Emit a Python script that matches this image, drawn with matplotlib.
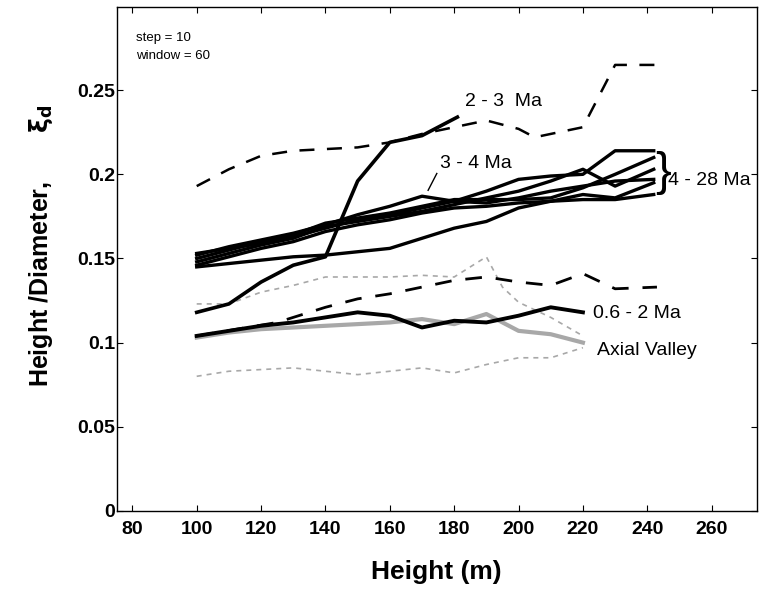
import numpy as np
import matplotlib.pyplot as plt

plt.rcParams['font.family'] = ['Liberation Sans', 'DejaVu Sans']

# upper dashed envelope
dash_hi_x = [100, 110, 120, 130, 140, 150, 160, 170, 180, 190, 200, 205, 210, 220, 230, 244]
dash_hi_y = [0.193, 0.203, 0.211, 0.214, 0.215, 0.216, 0.219, 0.224, 0.228, 0.232, 0.227, 0.222, 0.224, 0.228, 0.265, 0.265]

# lower dashed envelope
dash_lo_x = [100, 125, 140, 150, 160, 170, 180, 190, 200, 210, 220, 230, 243]
dash_lo_y = [0.104, 0.112, 0.121, 0.126, 0.129, 0.133, 0.137, 0.139, 0.136, 0.134, 0.141, 0.132, 0.133]

# 2 - 3 Ma
ma23_x = [100, 110, 120, 130, 140, 150, 160, 170, 181]
ma23_y = [0.118, 0.123, 0.136, 0.146, 0.151, 0.196, 0.219, 0.223, 0.234]

# 0.6 - 2 Ma
ma062_x = [100, 110, 120, 130, 140, 150, 160, 170, 180, 190, 200, 210, 220]
ma062_y = [0.104, 0.107, 0.110, 0.112, 0.115, 0.118, 0.116, 0.109, 0.113, 0.112, 0.116, 0.121, 0.118]

# 3 - 4 Ma and 4 - 28 Ma bundle
old_x = [100, 110, 120, 130, 140, 150, 160, 170, 180, 190, 200, 210, 220, 230, 242]
ma34_y = [0.152, 0.157, 0.161, 0.165, 0.170, 0.176, 0.181, 0.187, 0.184, 0.183, 0.186, 0.190, 0.193, 0.196, 0.197]
old_y = [
    [0.150, 0.155, 0.160, 0.163, 0.168, 0.173, 0.176, 0.180, 0.184, 0.190, 0.197, 0.199, 0.200, 0.214, 0.214],
    [0.148, 0.153, 0.158, 0.162, 0.169, 0.172, 0.175, 0.178, 0.182, 0.186, 0.190, 0.196, 0.203, 0.193, 0.203],
    [0.153, 0.156, 0.159, 0.164, 0.171, 0.174, 0.177, 0.181, 0.185, 0.185, 0.185, 0.186, 0.192, 0.200, 0.210],
    [0.146, 0.151, 0.156, 0.160, 0.166, 0.170, 0.173, 0.177, 0.180, 0.181, 0.183, 0.184, 0.188, 0.186, 0.195],
    [0.145, 0.147, 0.149, 0.151, 0.152, 0.154, 0.156, 0.162, 0.168, 0.172, 0.180, 0.184, 0.185, 0.185, 0.188],
]

# axial valley mean and envelopes
av_x = [100, 110, 120, 130, 140, 150, 160, 170, 180, 190, 200, 210, 220]
av_y = [0.103, 0.106, 0.108, 0.109, 0.110, 0.111, 0.112, 0.114, 0.111, 0.117, 0.107, 0.105, 0.100]
av_hi_x = [100, 110, 120, 130, 140, 150, 160, 170, 180, 185, 190, 195, 200, 210, 220]
av_hi_y = [0.123, 0.123, 0.130, 0.134, 0.139, 0.139, 0.139, 0.140, 0.139, 0.145, 0.151, 0.133, 0.124, 0.115, 0.104]
av_lo_x = [100, 110, 120, 130, 140, 150, 160, 170, 180, 190, 200, 210, 220]
av_lo_y = [0.080, 0.083, 0.084, 0.085, 0.083, 0.081, 0.083, 0.085, 0.082, 0.087, 0.091, 0.091, 0.097]

fig = plt.figure(figsize=(7.59, 5.99), dpi=100)
ax = fig.add_axes([0.154, 0.147, 0.843, 0.841])

gray = '#a8a8a8'
ax.plot(av_hi_x, av_hi_y, color=gray, lw=1.2, ls=(0, (3, 3)))
ax.plot(av_lo_x, av_lo_y, color=gray, lw=1.2, ls=(0, (3, 3)))
ax.plot(av_x, av_y, color=gray, lw=3.0)

ax.plot(dash_hi_x, dash_hi_y, color='k', lw=1.8, ls=(0, (6, 5)))
ax.plot(dash_lo_x, dash_lo_y, color='k', lw=2.0, ls=(0, (6, 5)))

ax.plot(ma062_x, ma062_y, color='k', lw=2.8)
ax.plot(ma23_x, ma23_y, color='k', lw=2.6)
for y in old_y:
    ax.plot(old_x, y, color='k', lw=2.4)
ax.plot(old_x, ma34_y, color='k', lw=2.4)

# annotations
ax.text(81, 0.279, 'step = 10', fontsize=9.5)
ax.text(81, 0.2685, 'window = 60', fontsize=9.5)
ax.text(183.5, 0.2435, '2 - 3  Ma', fontsize=14, va='center')
ax.text(175.5, 0.2065, '3 - 4 Ma', fontsize=14, va='center')
ax.plot([174.6, 171.9], [0.2005, 0.1905], color='k', lw=1)
ax.text(242.5, 0.2005, '}', fontsize=34, va='center', fontweight='light')
ax.text(246.5, 0.1965, '4 - 28 Ma', fontsize=14, va='center')
ax.text(223, 0.1176, '0.6 - 2 Ma', fontsize=14, va='center')
ax.text(224.5, 0.0955, 'Axial Valley', fontsize=14, va='center')

ax.set_xlim(75.2, 274)
ax.set_ylim(0, 0.2993)
ax.set_xticks(np.arange(80, 261, 20))
ax.set_yticks([0, 0.05, 0.1, 0.15, 0.2, 0.25])
ax.set_yticklabels(['0', '0.05', '0.1', '0.15', '0.2', '0.25'])
ax.tick_params(direction='in', top=True, right=True, length=4, labelsize=14)
ax.tick_params(axis='x', pad=7)
ax.tick_params(axis='y', pad=1)
for lab in ax.get_xticklabels() + ax.get_yticklabels():
    lab.set_fontweight('bold')
for s in ax.spines.values():
    s.set_linewidth(1.0)

ax.set_xlabel('Height (m)', fontsize=19, fontweight='bold', labelpad=16)
ax.set_ylabel('Height /Diameter,       $\\mathbf{\\xi_d}$', fontsize=18, fontweight='bold')
ax.yaxis.set_label_coords(-0.097, 0.526)

fig.savefig('out.png', dpi=100)
